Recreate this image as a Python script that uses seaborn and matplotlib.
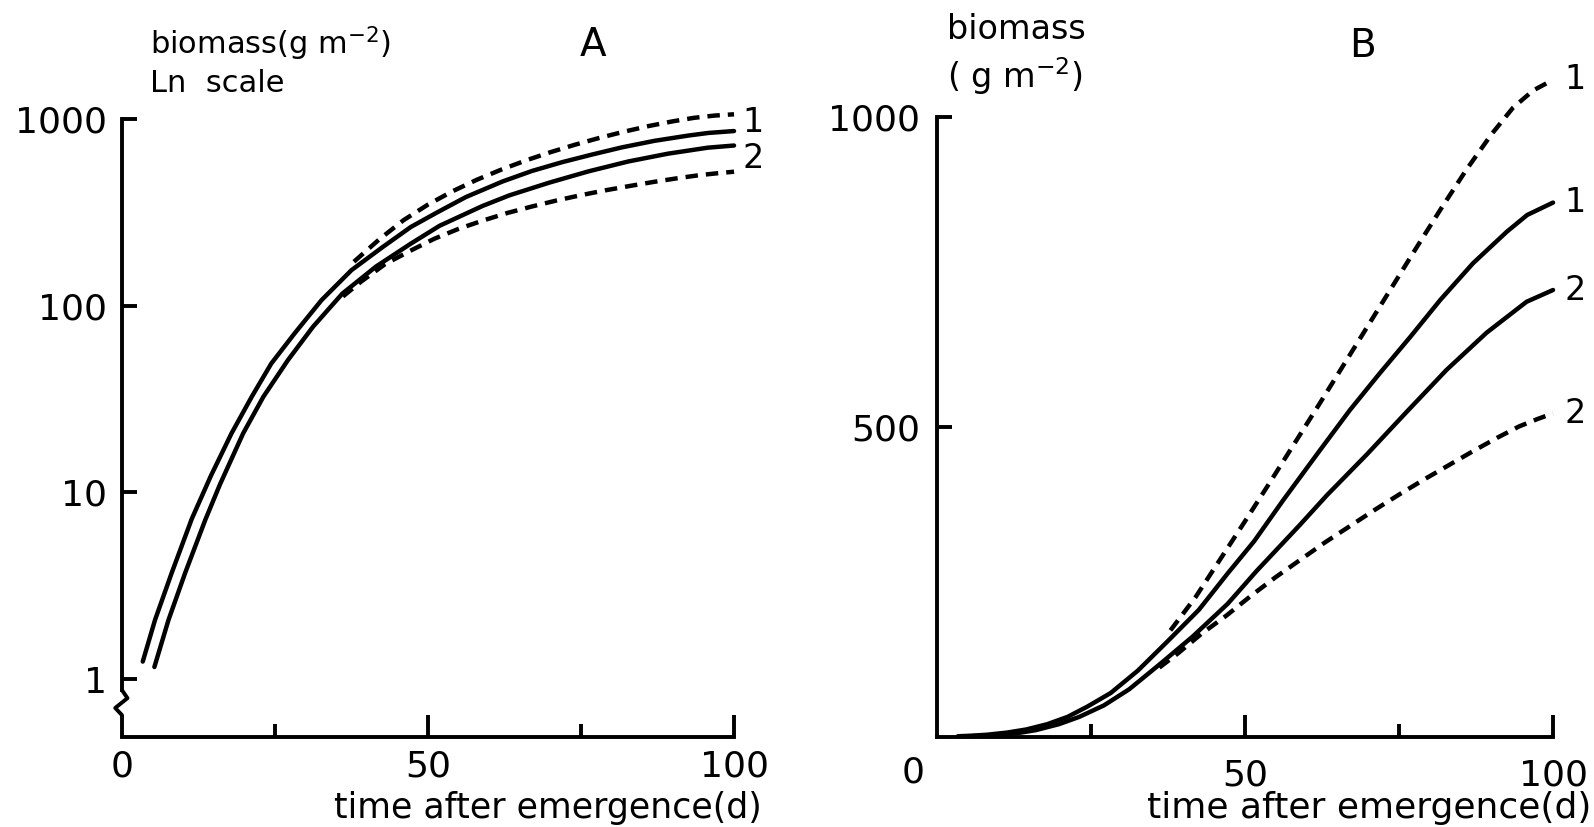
import numpy as np
import matplotlib
matplotlib.use("Agg")
import matplotlib.pyplot as plt
from matplotlib.ticker import NullLocator
import seaborn as sns

# biomass (g m-2) against days after emergence
# run 1 and run 2, solid and dashed versions
day_s1 = [3.4, 5.4, 8.1, 11.4, 14.5, 17.9, 21.2, 24.4, 28.2, 32.6, 37.5, 42.5,
          47.2, 51.5, 56.2, 62.2, 67.0, 71.9, 76.8, 81.7, 87.0, 92.5, 95.8, 100]
bio_s1 = [1.24, 2.07, 3.68, 7.2, 12.2, 20.7, 32.5, 49, 71, 107, 155, 205,
          264, 316, 382, 463, 527, 587, 645, 705, 764, 815, 842, 862]

day_s2 = [5.3, 7.6, 10.3, 13.6, 16.0, 19.8, 23.1, 27.1, 31.2, 36.0, 41.5, 47.2,
          51.9, 58.9, 63.3, 69.8, 76.2, 82.7, 89.2, 95.7, 100]
bio_s2 = [1.16, 2.07, 3.68, 7.1, 11.0, 20.7, 32.5, 51, 77, 116, 162, 215,
          268, 342, 390, 456, 524, 592, 652, 702, 721]

day_d1 = [37.9, 42, 46, 50, 54, 58, 62, 66, 70, 74, 78, 82, 86, 90,
          93.5, 96.8, 100]
bio_d1 = [172, 226, 287, 348, 410, 473, 536, 600, 664, 728, 792, 855, 916, 972,
          1015, 1043, 1060]

day_d2 = [36.1, 39, 43, 47, 51, 55, 59, 63, 67, 71, 75, 79, 83, 87, 91,
          94.5, 97.5, 100]
bio_d2 = [112, 134, 167, 196, 228, 258, 286, 314, 340, 366, 391, 415, 438, 461,
          483, 501, 513, 522]

curves = [
    (day_d1, bio_d1, "dashed"),
    (day_s1, bio_s1, "solid"),
    (day_s2, bio_s2, "solid"),
    (day_d2, bio_d2, "dashed"),
]
end_labels = ["1", "1", "2", "2"]

sns.set_style("ticks")
plt.rcParams["font.family"] = ["DejaVu Sans"]
plt.rcParams["axes.edgecolor"] = "black"
plt.rcParams["text.color"] = "black"
plt.rcParams["axes.labelcolor"] = "black"
plt.rcParams["xtick.color"] = "black"
plt.rcParams["ytick.color"] = "black"

LW = 3.2
SPINE = 2.8

fig = plt.figure(figsize=(15.94, 8.27), dpi=100)
axA = fig.add_axes([0.0765, 0.1088, 0.384, 0.7473])
axB = fig.add_axes([0.5878, 0.1088, 0.3865, 0.7497])

axA.set_yscale("log")

for ax in (axA, axB):
    for d, b, kind in curves:
        ls = "-" if kind == "solid" else (0, (2.8, 1.8))
        sns.lineplot(x=d, y=b, ax=ax, color="black", lw=LW, linestyle=ls,
                     estimator=None, errorbar=None)
    for line in ax.lines:
        line.set_clip_on(False)
        line.set_solid_capstyle("round")
        line.set_solid_joinstyle("round")
    sns.despine(ax=ax)
    ax.spines["left"].set_linewidth(SPINE)
    ax.spines["bottom"].set_linewidth(SPINE)
    ax.set_xlim(0, 100)
    ax.set_xticks([25, 75], minor=True)
    ax.tick_params(axis="x", which="major", direction="in", length=16,
                   width=SPINE, labelsize=26)
    ax.tick_params(axis="x", which="minor", direction="in", length=9.5,
                   width=SPINE)
    ax.tick_params(axis="y", which="major", direction="in", length=11,
                   width=SPINE, labelsize=26)

# panel A, log scale
axA.set_ylim(0.489, 1000)
axA.set_yticks([1, 10, 100, 1000], labels=["1", "10", "100", "1000"])
axA.yaxis.set_minor_locator(NullLocator())
axA.set_xticks([0, 50, 100], labels=["0", "50", "100"])
axA.tick_params(axis="x", which="major", pad=9)
axA.tick_params(axis="y", which="major", pad=11)
axA.spines["left"].set_bounds(0.873, 1000)
# axis break mark
axA.plot([0, 0.009, -0.011, 0], [0.873, 0.79, 0.70, 0.641],
         transform=axA.get_yaxis_transform(), color="black", lw=SPINE,
         clip_on=False)

axA.set_xlabel("time after emergence(d)", fontsize=25, ha="right",
               va="baseline")
axA.xaxis.set_label_coords(1.046, -0.131)
axA.set_ylabel("biomass(g m$^{-2}$)\nLn  scale", fontsize=22, rotation=0,
               ha="left", va="center", linespacing=1.25)
axA.yaxis.set_label_coords(0.0458, 1.093)
axA.text(0.77, 1.12, "A", transform=axA.transAxes, fontsize=28,
         ha="center", va="center")

axA.annotate("1", xy=(100, np.sqrt(bio_d1[-1] * bio_s1[-1])), xytext=(6, 0),
             textcoords="offset points", ha="left", va="center", fontsize=24,
             annotation_clip=False)
axA.annotate("2", xy=(100, np.sqrt(bio_s2[-1] * bio_d2[-1])), xytext=(6, 0),
             textcoords="offset points", ha="left", va="center", fontsize=24,
             annotation_clip=False)

# panel B, linear scale
axB.set_ylim(0, 1000)
axB.set_yticks([500, 1000], labels=["500", "1000"])
axB.set_xticks([50, 100], labels=["50", "100"])
axB.tick_params(axis="x", which="major", pad=15.5)
axB.tick_params(axis="y", which="major", pad=12)
axB.text(-3.9, -0.058, "0", transform=axB.get_xaxis_transform(),
         fontsize=26, ha="center", va="center")

axB.set_xlabel("time after emergence(d)", fontsize=26, ha="right",
               va="baseline")
axB.xaxis.set_label_coords(1.062, -0.1306)
axB.set_ylabel("biomass\n( g m$^{-2}$)", fontsize=24, rotation=0,
               ha="left", va="center", linespacing=1.3)
axB.yaxis.set_label_coords(0.016, 1.10)
axB.text(0.69, 1.115, "B", transform=axB.transAxes, fontsize=28,
         ha="center", va="center")

for (d, b, kind), lab in zip(curves, end_labels):
    axB.annotate(lab, xy=(d[-1], b[-1]), xytext=(8, 0),
                 textcoords="offset points", ha="left", va="center",
                 fontsize=24, annotation_clip=False)

fig.savefig("out.png", dpi=100, facecolor="white")
